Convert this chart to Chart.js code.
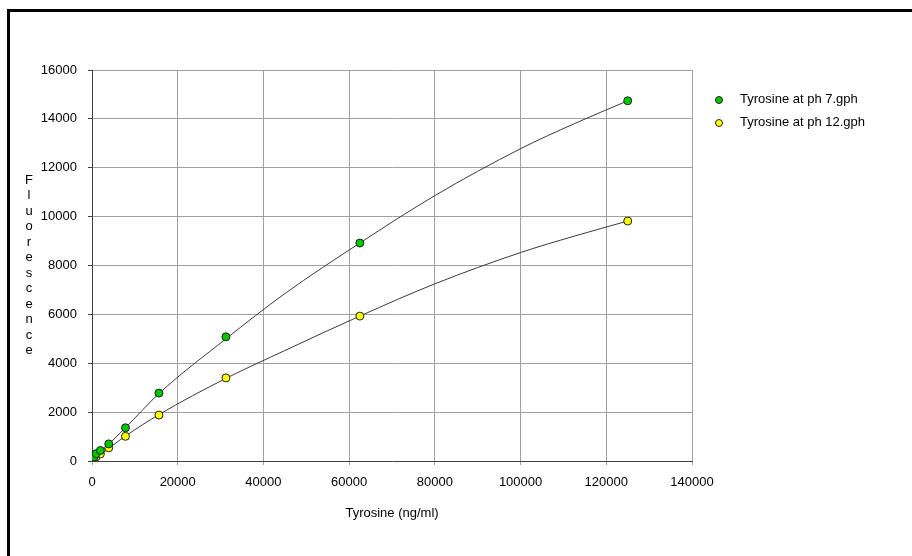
<!DOCTYPE html>
<html>
<head>
<meta charset="utf-8">
<script src="https://cdn.jsdelivr.net/npm/chart.js@4/dist/chart.umd.min.js"></script>
<style>
  html, body { margin: 0; padding: 0; background: #fff; }
  canvas { display: block; }
</style>
</head>
<body>
<canvas id="chart" width="912" height="556"></canvas>
<script>
// concentration series (ng/ml) and fluorescence readings
const concentrations = [0, 488, 977, 1953, 3906, 7813, 15625, 31250, 62500, 125000];
const ph7 = [70, 170, 300, 430, 700, 1360, 2780, 5080, 8920, 14740];
const ph12 = [30, 90, 170, 290, 540, 1010, 1880, 3400, 5930, 9820];

// fitted curves
const fitX = [0, 3906, 7813, 15625, 31250, 45000, 62500, 80000, 100000, 112500, 125000];
const fitPh7 = [0, 690, 1360, 2760, 5000, 6850, 8920, 10860, 12780, 13800, 14740];
const fitPh12 = [0, 520, 1020, 1900, 3380, 4520, 5930, 7250, 8530, 9200, 9820];

const seriesLabels = ["Tyrosine at ph 7.gph", "Tyrosine at ph 12.gph"];
const seriesColors = ["#00c800", "#ffff00"];

const xTickValues = [0, 20000, 40000, 60000, 80000, 100000, 120000, 140000];
const yTickValues = [0, 2000, 4000, 6000, 8000, 10000, 12000, 14000, 16000];

const xTitle = "Tyrosine (ng/ml)";
const yTitle = "Fluorescence";

const FONT = "'Liberation Sans', Arial, sans-serif";

const pts = (xs, ys) => xs.map((x, i) => ({ x, y: ys[i] }));

const markers = (label, ys, color) => ({
  label,
  data: pts(concentrations, ys),
  showLine: false,
  pointRadius: 4,
  pointBorderWidth: 1,
  pointBackgroundColor: color,
  pointBorderColor: "#202020",
  order: 0,
});

const fit = (ys) => ({
  label: "fit",
  data: pts(fitX, ys),
  showLine: true,
  borderColor: "#3a3a3a",
  borderWidth: 1,
  cubicInterpolationMode: "monotone",
  pointRadius: 0,
  order: 1,
});

// frame, stacked y title and legend drawn by hand
const decor = {
  id: "decor",
  afterDraw(chart) {
    const ctx = chart.ctx;
    const area = chart.chartArea;
    ctx.save();
    ctx.fillStyle = "#000";
    ctx.fillRect(7, 9, 905, 3);
    ctx.fillRect(7, 9, 3, 547);

    ctx.font = "13px " + FONT;
    ctx.fillStyle = "#000";
    ctx.textAlign = "center";
    ctx.textBaseline = "middle";
    const letters = yTitle.split("");
    const step = 15.5;
    const mid = (area.top + area.bottom) / 2;
    const y0 = mid - ((letters.length - 1) * step) / 2;
    letters.forEach((ch, i) => ctx.fillText(ch, 29, y0 + i * step));

    ctx.textAlign = "left";
    chart.data.datasets.filter((ds) => ds.label !== "fit").forEach((ds, i) => {
      const y = 99 + i * 23;
      ctx.beginPath();
      ctx.arc(719, y + 1, 3.5, 0, Math.PI * 2);
      ctx.fillStyle = ds.pointBackgroundColor;
      ctx.fill();
      ctx.lineWidth = 1;
      ctx.strokeStyle = "#202020";
      ctx.stroke();
      ctx.fillStyle = "#000";
      ctx.fillText(ds.label, 740, y);
    });
    ctx.restore();
  },
};

new Chart(document.getElementById("chart"), {
  type: "scatter",
  data: {
    datasets: [
      markers(seriesLabels[0], ph7, seriesColors[0]),
      markers(seriesLabels[1], ph12, seriesColors[1]),
      fit(fitPh7),
      fit(fitPh12),
    ],
  },
  options: {
    responsive: false,
    animation: false,
    layout: { padding: { left: 0, top: 70, right: 220, bottom: 31 } },
    plugins: { legend: { display: false }, tooltip: { enabled: false } },
    scales: {
      x: {
        type: "linear",
        min: 0,
        max: 140000,
        afterBuildTicks: (s) => { s.ticks = xTickValues.map((v) => ({ value: v })); },
        afterFit: (s) => { s.height = 64; },
        grid: { color: "#a0a0a0", lineWidth: 1, tickLength: 4, tickColor: "#a0a0a0" },
        border: { color: "#404040", width: 1 },
        ticks: { color: "#000", font: { family: FONT, size: 13 }, padding: 10, maxRotation: 0, callback: (v) => String(v) },
        title: {
          display: true,
          text: xTitle,
          color: "#000",
          font: { family: FONT, size: 13 },
          padding: { top: 4, bottom: 4 },
        },
      },
      y: {
        type: "linear",
        min: 0,
        max: 16000,
        afterBuildTicks: (s) => { s.ticks = yTickValues.map((v) => ({ value: v })); },
        afterFit: (s) => { s.width = 92; },
        grid: { color: "#a0a0a0", lineWidth: 1, tickLength: 4, tickColor: "#404040" },
        border: { color: "#404040", width: 1 },
        ticks: { color: "#000", font: { family: FONT, size: 13 }, padding: 11, callback: (v) => String(v) },
      },
    },
  },
  plugins: [decor],
});
</script>
</body>
</html>
